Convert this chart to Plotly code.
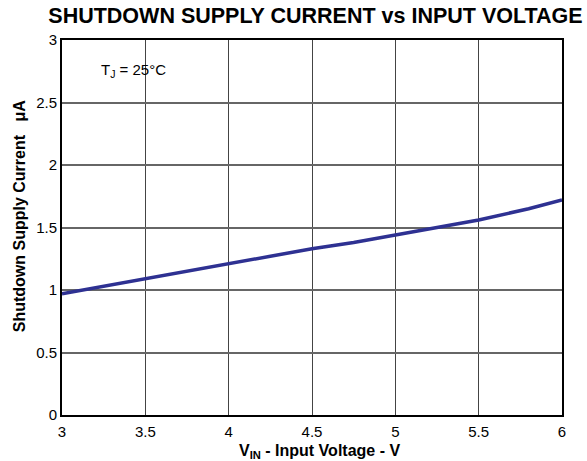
import plotly.graph_objects as go

# shutdown supply current vs input voltage
vin = [3.0, 3.25, 3.5, 3.75, 4.0, 4.25, 4.5, 4.75, 5.0, 5.25, 5.5, 5.8, 6.0]
i_sd = [0.97, 1.03, 1.09, 1.15, 1.21, 1.27, 1.33, 1.38, 1.44, 1.50, 1.56, 1.65, 1.72]

x_ticks = [3, 3.5, 4, 4.5, 5, 5.5, 6]
x_tick_text = ["3", "3.5", "4", "4.5", "5", "5.5", "6"]
y_ticks = [0, 0.5, 1, 1.5, 2, 2.5, 3]
y_tick_text = ["0", "0.5", "1", "1.5", "2", "2.5", "3"]

font = "Liberation Sans, Arial, sans-serif"

fig = go.Figure()
fig.add_trace(go.Scatter(x=vin, y=i_sd, mode="lines",
                         line=dict(color="#2E3192", width=3.5),
                         showlegend=False))

fig.add_annotation(x=3.22, y=2.76, xref="x", yref="y", xanchor="left",
                   text="T<sub>J</sub> = 25°C", showarrow=False,
                   font=dict(family=font, size=15, color="black"))

# axis titles as annotations so they sit where the reference has them
fig.add_annotation(x=0.514, y=-0.097, xref="paper", yref="paper",
                   xanchor="center", yanchor="middle", showarrow=False,
                   text="<b>V<sub>IN</sub> - Input Voltage - V</b>",
                   font=dict(family=font, size=16, color="black"))
fig.add_annotation(x=-0.086, y=0.53, xref="paper", yref="paper",
                   xanchor="center", yanchor="middle", showarrow=False,
                   textangle=-90,
                   text="<b>Shutdown Supply Current   μA</b>",
                   font=dict(family=font, size=16, color="black"))

fig.update_layout(
    width=587, height=461,
    margin=dict(l=62, r=25, t=40, b=46),
    paper_bgcolor="white", plot_bgcolor="white",
    font=dict(family=font, color="black"),
    title=dict(text="<b>SHUTDOWN SUPPLY CURRENT vs INPUT VOLTAGE</b>",
               xref="container", x=0.5375, xanchor="center",
               yref="container", y=0.982, yanchor="top",
               font=dict(size=21.5, family=font, color="black")),
)
fig.update_xaxes(range=[3, 6], tickvals=x_ticks, ticktext=x_tick_text,
                 showgrid=True, gridcolor="#444", gridwidth=1,
                 showline=True, linecolor="black", linewidth=2, mirror=True,
                 ticks="", tickfont=dict(size=15), zeroline=False,
                 ticklabelstandoff=2, automargin=False)
fig.update_yaxes(range=[0, 3], tickvals=y_ticks, ticktext=y_tick_text,
                 showgrid=True, gridcolor="#666", gridwidth=1.5,
                 showline=True, linecolor="black", linewidth=2, mirror=True,
                 ticks="", tickfont=dict(size=15), zeroline=False,
                 automargin=False)

# drop the page's default 8px body margin so the figure fills the window
fig.write_html("out.html", config={"displayModeBar": False},
               post_script="document.body.style.margin = '0';")
